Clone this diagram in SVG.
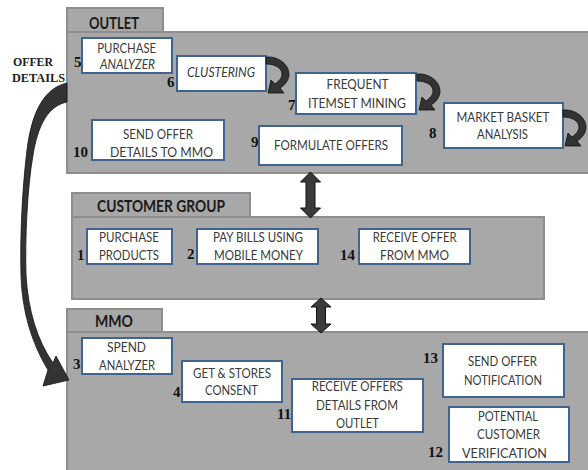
<svg xmlns="http://www.w3.org/2000/svg" xmlns:xlink="http://www.w3.org/1999/xlink" width="588" height="470" viewBox="0 0 588 470">
<style>
.panel{fill:#a8a8a8;stroke:#8e8e8e;stroke-width:2}
.box{fill:#ffffff;stroke:#41648f;stroke-width:2}
.t{font-family:Lato,"Open Sans",sans-serif;font-size:14px;fill:#3a3a3a;text-anchor:middle}
.i{font-style:italic}
.h{font-family:Lato,"Open Sans",sans-serif;font-size:17px;font-weight:bold;fill:#1a1a1a;text-anchor:middle}
.n{font-family:"Liberation Serif",serif;font-size:15px;font-weight:bold;fill:#111}
.od{font-family:"Liberation Serif",serif;font-size:13px;font-weight:bold;fill:#222}
.arr{fill:#3a3a3a;stroke:#111;stroke-width:1}
.carr{fill:#333;stroke:#111;stroke-width:0.8}
</style>
<defs>
<path id="curl" d="M0,0 C13,-1 23,8 23,17 C23,23 19,28 14,31 L18,36 L2,36 L5,23 L9,27 C13,24 16,21 16,17 C16,11 9,7 0,7 Z"/>
</defs>

<g id="outlet">
<rect class="panel" x="67" y="8" width="96" height="24"/>
<rect class="panel" x="67" y="32" width="525" height="141"/>
<text class="h" x="114" y="28.5" textLength="50" lengthAdjust="spacingAndGlyphs">OUTLET</text>
</g>
<g id="customer-group">
<rect class="panel" x="72" y="193" width="178" height="24"/>
<rect class="panel" x="72" y="217" width="472" height="82"/>
<text class="h" x="161" y="211.7" textLength="128" lengthAdjust="spacingAndGlyphs">CUSTOMER  GROUP</text>
</g>
<g id="mmo">
<rect class="panel" x="67" y="309" width="95" height="23"/>
<rect class="panel" x="67" y="332" width="525" height="142"/>
<text class="h" x="114" y="326.7" textLength="38" lengthAdjust="spacingAndGlyphs">MMO</text>
</g>

<g id="n5">
<rect class="box" x="82" y="38" width="90" height="35"/>
<text class="t" x="126.7" y="53.3" textLength="59" lengthAdjust="spacingAndGlyphs">PURCHASE</text>
<text class="t i" x="127.5" y="69" textLength="55" lengthAdjust="spacingAndGlyphs">ANALYZER</text>
<text class="n" x="74" y="66.7">5</text>
</g>
<g id="n6">
<rect class="box" x="177" y="56" width="89" height="35"/>
<text class="t i" x="221" y="77.3" textLength="68" lengthAdjust="spacingAndGlyphs">CLUSTERING</text>
<text class="n" x="167" y="87">6</text>
</g>
<g id="n7">
<rect class="box" x="296" y="73" width="120" height="41"/>
<text class="t" x="357.5" y="89.3" textLength="62" lengthAdjust="spacingAndGlyphs">FREQUENT</text>
<text class="t" x="357" y="108.3" textLength="98" lengthAdjust="spacingAndGlyphs">ITEMSET MINING</text>
<text class="n" x="288" y="110">7</text>
</g>
<g id="n8">
<rect class="box" x="444" y="103" width="119" height="45"/>
<text class="t" x="503" y="121.7" textLength="93" lengthAdjust="spacingAndGlyphs">MARKET BASKET</text>
<text class="t" x="502.5" y="139.3" textLength="51" lengthAdjust="spacingAndGlyphs">ANALYSIS</text>
<text class="n" x="429" y="138.3">8</text>
</g>
<g id="n10">
<rect class="box" x="92" y="120" width="132" height="40"/>
<text class="t" x="158" y="139.3" textLength="70" lengthAdjust="spacingAndGlyphs">SEND OFFER</text>
<text class="t" x="161.5" y="156.7" textLength="103" lengthAdjust="spacingAndGlyphs">DETAILS TO MMO</text>
<text class="n" x="73" y="156.7">10</text>
</g>
<g id="n9">
<rect class="box" x="259" y="126" width="143" height="39"/>
<text class="t" x="331" y="150" textLength="114" lengthAdjust="spacingAndGlyphs">FORMULATE OFFERS</text>
<text class="n" x="251" y="146.7">9</text>
</g>

<g id="n1">
<rect class="box" x="87" y="229" width="85" height="35"/>
<text class="t" x="129" y="241.7" textLength="60" lengthAdjust="spacingAndGlyphs">PURCHASE</text>
<text class="t" x="129" y="260" textLength="60" lengthAdjust="spacingAndGlyphs">PRODUCTS</text>
<text class="n" x="77" y="260">1</text>
</g>
<g id="n2">
<rect class="box" x="197" y="229" width="121" height="35"/>
<text class="t" x="258" y="241.7" textLength="90" lengthAdjust="spacingAndGlyphs">PAY BILLS USING</text>
<text class="t" x="258.5" y="260" textLength="89" lengthAdjust="spacingAndGlyphs">MOBILE MONEY</text>
<text class="n" x="187" y="259">2</text>
</g>
<g id="n14">
<rect class="box" x="359" y="229" width="111" height="35"/>
<text class="t" x="414.7" y="241.7" textLength="84" lengthAdjust="spacingAndGlyphs">RECEIVE OFFER</text>
<text class="t" x="414.5" y="260" textLength="69" lengthAdjust="spacingAndGlyphs">FROM MMO</text>
<text class="n" x="340" y="260">14</text>
</g>

<g id="n3">
<rect class="box" x="82" y="338" width="90" height="36"/>
<text class="t" x="126.5" y="352.3" textLength="39" lengthAdjust="spacingAndGlyphs">SPEND</text>
<text class="t" x="127" y="370" textLength="56" lengthAdjust="spacingAndGlyphs">ANALYZER</text>
<text class="n" x="73" y="369">3</text>
</g>
<g id="n4">
<rect class="box" x="182" y="361" width="100" height="41"/>
<text class="t" x="232" y="378.3" textLength="78" lengthAdjust="spacingAndGlyphs">GET &amp; STORES</text>
<text class="t" x="231.5" y="395" textLength="53" lengthAdjust="spacingAndGlyphs">CONSENT</text>
<text class="n" x="173" y="396.7">4</text>
</g>
<g id="n11">
<rect class="box" x="292" y="379" width="131" height="53"/>
<text class="t" x="357.2" y="390.7" textLength="91" lengthAdjust="spacingAndGlyphs">RECEIVE OFFERS</text>
<text class="t" x="357" y="410" textLength="82" lengthAdjust="spacingAndGlyphs">DETAILS FROM</text>
<text class="t" x="357.5" y="428.3" textLength="43" lengthAdjust="spacingAndGlyphs">OUTLET</text>
<text class="n" x="277" y="419">11</text>
</g>
<g id="n13">
<rect class="box" x="443" y="344" width="121" height="53"/>
<text class="t" x="502.5" y="366" textLength="69" lengthAdjust="spacingAndGlyphs">SEND OFFER</text>
<text class="t" x="503" y="385" textLength="78" lengthAdjust="spacingAndGlyphs">NOTIFICATION</text>
<text class="n" x="423" y="363.3">13</text>
</g>
<g id="n12">
<rect class="box" x="449" y="407" width="120" height="55"/>
<text class="t" x="508" y="420.7" textLength="60" lengthAdjust="spacingAndGlyphs">POTENTIAL</text>
<text class="t" x="508.5" y="439.3" textLength="63" lengthAdjust="spacingAndGlyphs">CUSTOMER</text>
<text class="t" x="504.5" y="458.3" textLength="85" lengthAdjust="spacingAndGlyphs">VERIFICATION</text>
<text class="n" x="428" y="457">12</text>
</g>

<g id="connectors">
<path class="arr" d="M310.5,172 L320.5,182 L315,182 L315,208 L320.5,208 L310.5,218 L300.5,208 L306,208 L306,182 L300.5,182 Z"/>
<path class="arr" d="M321,298 L331,307 L325.5,307 L325.5,324 L331,324 L321,333 L311,324 L316.5,324 L316.5,307 L311,307 Z"/>
<use class="carr" xlink:href="#curl" href="#curl" transform="translate(266,57)"/>
<use class="carr" xlink:href="#curl" href="#curl" transform="translate(417,74)"/>
<use class="carr" xlink:href="#curl" href="#curl" transform="translate(563,110)"/>
<path class="carr" d="M67,83 C45,88 32,110 27,150 C22,190 20,240 21,275 C22,310 31,342 48,370 L43,386 L69,380 L56,356 L53,363 C37,340 28,310 26,275 C25,240 27,190 33,155 C38,125 48,106 67,102 Z"/>
</g>
<g id="offer-details-label">
<text class="od" x="13" y="65.7" textLength="40" lengthAdjust="spacingAndGlyphs">OFFER</text>
<text class="od" x="12" y="82.3" textLength="53" lengthAdjust="spacingAndGlyphs">DETAILS</text>
</g>
</svg>
